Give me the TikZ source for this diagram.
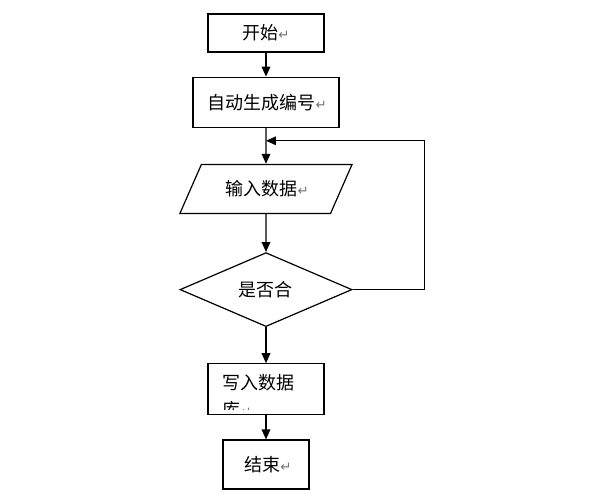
\documentclass[tikz,border=0pt]{standalone}
\usepackage{fontspec}
\newfontfamily\cjk{Noto Sans CJK SC}
\newfontfamily\symfont{DejaVu Sans}
\usetikzlibrary{positioning,shapes.geometric,arrows.meta}
\newcommand{\ret}{{\symfont\color{black!55}\fontsize{10}{10}\selectfont ↵}}

\begin{document}
\begin{tikzpicture}[
                    font=\cjk\fontsize{13.5}{16.5}\selectfont,
                    box/.style={draw, line width=0.9pt, inner sep=0pt, minimum width=87pt, minimum height=28.5pt},
                    data/.style={draw, line width=0.9pt, trapezium, trapezium left angle=49.4, trapezium right angle=130.6, trapezium stretches=true, inner sep=0pt, minimum width=129.75pt, minimum height=36.75pt},
                    check/.style={draw, line width=0.9pt, diamond, inner sep=0pt, minimum width=129pt, minimum height=55.5pt},
                    flow/.style={line width=0.9pt, -{Triangle[length=7.5pt,width=6.5pt]}},
                ]
                \useasboundingbox (-199.5pt,24.75pt) rectangle (243pt,-350.25pt);
                %Nodes
                \node[box]   (start)                      {开始\ret};
                \node[box, minimum width=109.5pt, minimum height=37.5pt] (gen) [below=18pt of start] {\hspace{2pt}自动生成编号\ret};
                \node[data]  (input) [below=27pt of gen] {\hspace{2pt}输入数据\ret};
                \node[check] (test)  [below=28.5pt of input] {是否合};
                \node[box, minimum height=38.25pt] (write) [below=27pt of test] {};
                \node[box, minimum width=64.5pt, minimum height=36.75pt] (stop) [below=18pt of write] {\hspace{3pt}结束\ret};
                \coordinate[below=9.75pt of gen] (join);
                %Text of the write box, cut off above its lower border
                \begin{scope}
                    \clip ([yshift=4.5pt]write.south west) rectangle (write.north east);
                    \node[anchor=north west, align=left, inner sep=0pt, font=\cjk\fontsize{13.5}{20.25}\selectfont]
                        (writetext) at ([shift={(11pt,-8pt)}]write.north west) {写入数据\\库\ret};
                \end{scope}
                %Connectors
                \draw[flow] (start) -- (gen);
                \draw[flow] (gen)   -- (input);
                \draw[flow] (input) -- (test);
                \draw[flow] (test)  -- (write);
                \draw[flow] (write) -- (stop);
                \draw[flow] (test.east) -- ++(54pt,0) |- (join);
            \end{tikzpicture}
\end{document}
